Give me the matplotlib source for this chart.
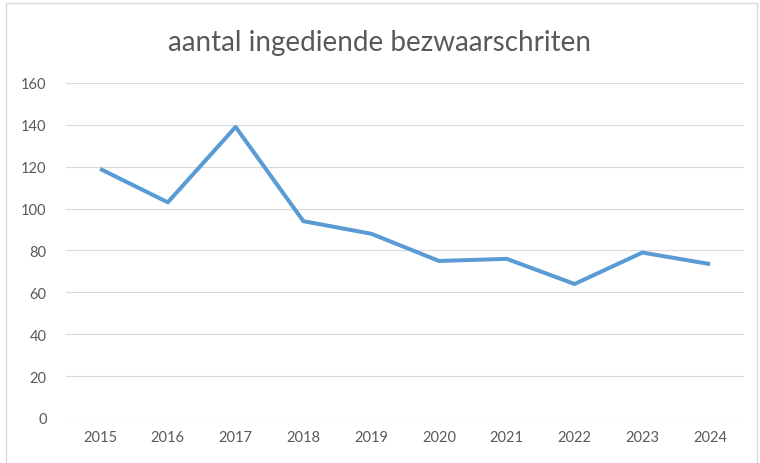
import matplotlib
matplotlib.use("Agg")
from matplotlib import pyplot as plt
from matplotlib.patches import Rectangle

# Gegevens
jaren = ["2015", "2016", "2017", "2018", "2019", "2020", "2021", "2022", "2023", "2024"]
aantallen = [119, 103, 139, 94, 88, 75, 76, 64, 79, 73.5]
y_ticks = [0, 20, 40, 60, 80, 100, 120, 140, 160]

GRIJS = "#595959"

plt.rcParams["font.family"] = ["Lato", "DejaVu Sans"]

fig = plt.figure(figsize=(7.6, 4.64), dpi=100)
ax = fig.add_axes([0.087, 0.097, 0.892, 0.722])

ax.plot(range(len(jaren)), aantallen, color="#5B9BD5", linewidth=2.9,
        solid_joinstyle="round", solid_capstyle="butt", zorder=3)

ax.set_xlim(-0.5, len(jaren) - 0.5)
ax.set_ylim(0, 160)
ax.set_yticks(y_ticks)
ax.set_xticks(range(len(jaren)))
ax.set_xticklabels(jaren)

ax.grid(axis="y", color="#D9D9D9", linewidth=0.8)
ax.set_axisbelow(True)
for kant in ax.spines.values():
    kant.set_visible(False)
ax.tick_params(axis="both", length=0, labelsize=10.5, labelcolor=GRIJS)
ax.tick_params(axis="y", pad=14)
ax.tick_params(axis="x", pad=9)

fig.text(0.5, 0.907, "aantal ingediende bezwaarschriten", ha="center",
         va="center", fontsize=20, color=GRIJS)

# rand om de grafiek
fig.patches.append(Rectangle((6 / 760, -0.01), 751 / 760, 1.0 - 4 / 464 + 0.01,
                             transform=fig.transFigure, fill=False,
                             edgecolor="#D9D9D9", linewidth=1.0))

fig.savefig("out.png", dpi=100)
